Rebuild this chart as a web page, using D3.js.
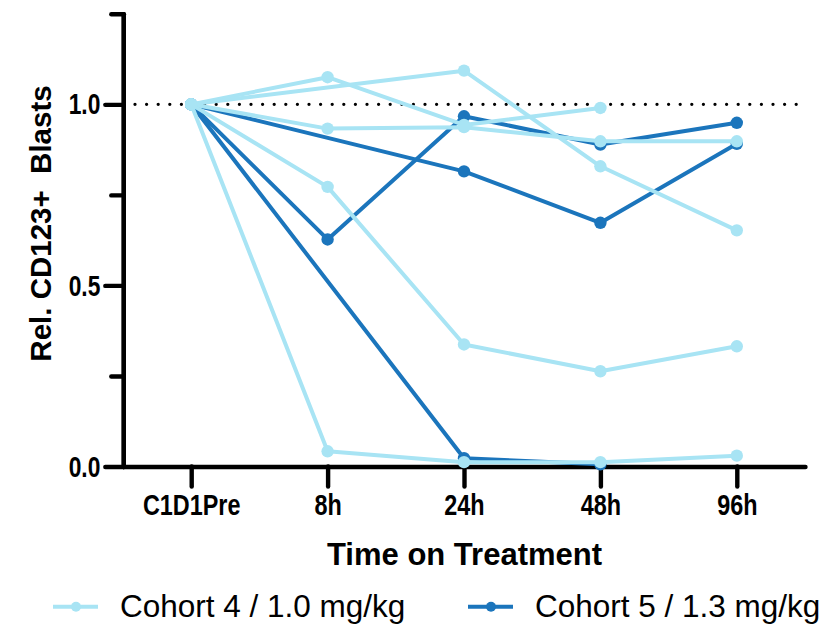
<!DOCTYPE html>
<html>
<head>
<meta charset="utf-8">
<script src="https://cdn.jsdelivr.net/npm/d3@7"></script>
<style>
  body { margin: 0; background: #fff; }
  svg { display: block; font-family: "Liberation Sans", Arial, sans-serif; }
  .tickLabel { font-size: 30px; font-weight: bold; fill: #000; }
  .axisTitle { font-size: 31px; font-weight: bold; fill: #000; white-space: pre; }
  .legendText { font-size: 31.5px; fill: #000; }
</style>
</head>
<body>
<div id="chart"></div>
<script>
// Step 1: Data
// =================================
var timepoints = ["C1D1Pre", "8h", "24h", "48h", "96h"];

// Cohort 4 / 1.0 mg/kg (one array per patient, null = not measured)
var cohort4 = [
  [1.0, 1.075, 0.943, 0.990, null],
  [1.0, 0.933, 0.937, 0.898, 0.898],
  [1.0, null,  1.093, 0.829, 0.652],
  [1.0, 0.772, 0.337, 0.263, 0.332],
  [1.0, 0.042, 0.012, 0.012, 0.030]
];

// Cohort 5 / 1.3 mg/kg
var cohort5 = [
  [1.0, null,  0.815, 0.673, 0.891],
  [1.0, 0.627, 0.967, 0.889, 0.949],
  [1.0, null,  0.023, 0.006, null]
];

var yMajorTicks = [0, 0.5, 1.0];
var yMinorTicks = [0.25, 0.75, 1.25];
var legendLabels = ["Cohort 4 / 1.0 mg/kg", "Cohort 5 / 1.3 mg/kg"];

var lightBlue = "#a8e4f4";
var darkBlue  = "#1b75bc";

// Step 2: Set up the chart
// =================================
var svgWidth  = 834;
var svgHeight = 625;

var svg = d3.select("#chart")
  .append("svg")
  .attr("width", svgWidth)
  .attr("height", svgHeight);

// Step 3: Scales
// =================================
var xScale = d3.scalePoint()
  .domain(timepoints)
  .range([123, 805])
  .padding(0.5);

var yScale = d3.scaleLinear()
  .domain([0, 1.25])
  .range([466.5, 13.8]);

// Step 4: Dotted reference line at 1.0
// =================================
svg.append("line")
  .attr("x1", 135)
  .attr("x2", 797)
  .attr("y1", yScale(1))
  .attr("y2", yScale(1))
  .attr("stroke", "#000")
  .attr("stroke-width", 3.3)
  .attr("stroke-linecap", "round")
  .attr("stroke-dasharray", "0 11.6");

// Step 5: Axes
// =================================
var yAxisMinor = d3.axisLeft(yScale)
  .tickValues(yMinorTicks)
  .tickSize(12)
  .tickSizeOuter(0)
  .tickFormat("");

var yAxis = d3.axisLeft(yScale)
  .tickValues(yMajorTicks)
  .tickSize(18)
  .tickSizeOuter(0)
  .tickFormat(d3.format(".1f"));

var xAxis = d3.axisBottom(xScale)
  .tickSize(20)
  .tickSizeOuter(0);

var yMinorGroup = svg.append("g")
  .attr("transform", "translate(123.3, 0)")
  .call(yAxisMinor);

var yGroup = svg.append("g")
  .attr("transform", "translate(123.3, 0)")
  .call(yAxis);

var xGroup = svg.append("g")
  .attr("transform", `translate(0, ${yScale(0)})`)
  .call(xAxis);

[yMinorGroup, yGroup, xGroup].forEach(function(g) {
  g.selectAll("path, line")
    .attr("stroke", "#000")
    .attr("stroke-width", 4.4)
    .attr("stroke-linecap", "round");
});

// labels are drawn narrow, like the original export
yGroup.selectAll("text")
  .attr("class", "tickLabel")
  .attr("x", 0)
  .attr("transform", "translate(-23, 0) scale(0.76, 1)");

xGroup.selectAll("text")
  .attr("class", "tickLabel")
  .attr("y", 0)
  .attr("dy", 0)
  .attr("transform", "translate(0, 48.5) scale(0.78, 1)");

svg.selectAll("g").attr("font-family", null).attr("font-size", null);

// Step 6: Axis titles
// =================================
svg.append("text")
  .attr("class", "axisTitle")
  .attr("text-anchor", "middle")
  .attr("x", 464.5)
  .attr("y", 565)
  .text("Time on Treatment");

svg.append("text")
  .attr("class", "axisTitle")
  .attr("text-anchor", "middle")
  .style("font-size", "29.5px")
  .attr("transform", "translate(51, 223.5) rotate(-90)")
  .text("Rel. CD123+  Blasts");

// Step 7: Lines and points
// =================================
var line = d3.line()
  .x(d => xScale(d.t))
  .y(d => yScale(d.v));

function toPoints(values) {
  return values
    .map((v, i) => ({t: timepoints[i], v: v}))
    .filter(d => d.v !== null);
}

function drawCohort(series, color) {
  var g = svg.append("g");
  series.forEach(function(values) {
    var pts = toPoints(values);
    g.append("path")
      .datum(pts)
      .attr("d", line)
      .attr("fill", "none")
      .attr("stroke", color)
      .attr("stroke-width", 4)
      .attr("stroke-linejoin", "round");
    g.selectAll(null)
      .data(pts)
    .enter().append("circle")
      .attr("cx", d => xScale(d.t))
      .attr("cy", d => yScale(d.v))
      .attr("r", 6.2)
      .attr("fill", color);
  });
}

drawCohort(cohort5, darkBlue);
drawCohort(cohort4, lightBlue);

// Step 8: Legend
// =================================
var legendItems = [
  {label: legendLabels[0], color: lightBlue, x: 53},
  {label: legendLabels[1], color: darkBlue,  x: 468}
];

var legend = svg.append("g").selectAll("g")
  .data(legendItems)
.enter().append("g")
  .attr("transform", d => `translate(${d.x}, 606.7)`);

legend.append("line")
  .attr("x1", 0)
  .attr("x2", 45)
  .attr("stroke", d => d.color)
  .attr("stroke-width", 4);

legend.append("circle")
  .attr("cx", 23)
  .attr("r", 5)
  .attr("fill", d => d.color);

legend.append("text")
  .attr("class", "legendText")
  .attr("x", 67)
  .attr("y", 10.3)
  .text(d => d.label);
</script>
</body>
</html>
